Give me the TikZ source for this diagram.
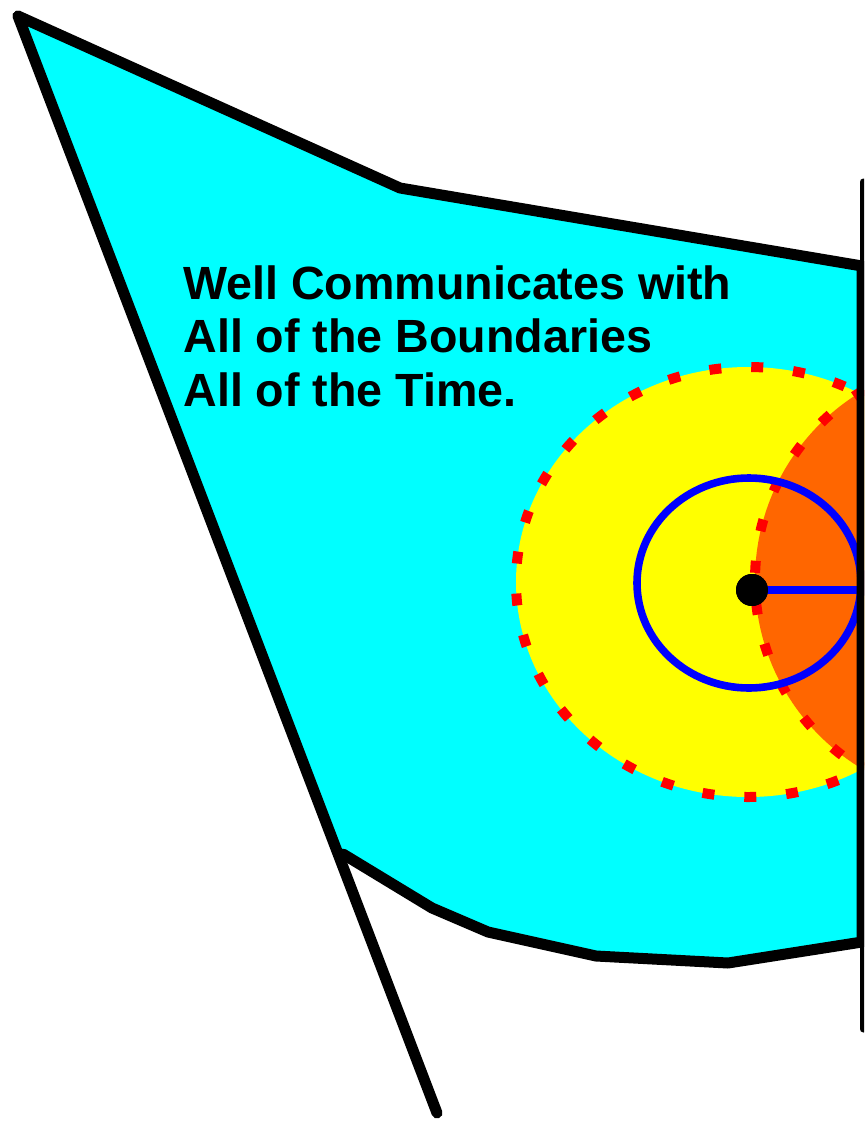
\documentclass[tikz,border=0pt]{standalone}
\usepackage{fontspec}
\setmainfont{Liberation Sans}
\usetikzlibrary{positioning}
\definecolor{wellcyan}{RGB}{0,255,255}
\definecolor{zoneyellow}{RGB}{255,255,0}
\definecolor{zoneorange}{RGB}{255,102,0}
\definecolor{frontred}{RGB}{255,0,0}
\definecolor{radblue}{RGB}{0,0,255}

\begin{document}
\begin{tikzpicture}[
    x=0.5pt, y=-0.5pt,
    boundary/.style={draw=black, line width=5.5pt, line join=round, line cap=round},
    front/.style={draw=frontred, line width=5pt, dash pattern=on 6pt off 15pt},
    radline/.style={draw=radblue, line width=3.8pt},
    note/.style={font=\bfseries\fontsize{23.3}{26.75}\selectfont, align=left, inner sep=0pt}
  ]
    \clip (0,0) rectangle (864,1124);

    % outline of the domain
    \coordinate (tl) at (18,16);
    \coordinate (kink) at (400,188);
    \coordinate (tr) at (862,266);
    \coordinate (br) at (862,942);
    \coordinate (b1) at (728,963);
    \coordinate (b2) at (596,956);
    \coordinate (b3) at (488,932);
    \coordinate (b4) at (432,908);
    \coordinate (bl) at (343,854);
    \coordinate (tail) at (437,1113);

    \fill[wellcyan] (tl) -- (kink) -- (tr) -- (br) -- (b1) -- (b2) -- (b3) -- (b4) -- (bl) -- cycle;

    % pressure zones
    \fill[zoneyellow] (748,582) ellipse [x radius=116pt, y radius=107.5pt];
    \fill[zoneorange] (975,580) circle [radius=110pt];
    \draw[front] (748,582) ellipse [x radius=116pt, y radius=107.5pt];
    \draw[front] (975,580) circle [radius=110pt];
    \draw[radline] (749,583) ellipse [x radius=56pt, y radius=52.5pt];

    \node[circle, fill=black, minimum size=16pt, inner sep=0pt] (well) at (752,590) {};
    \coordinate (rim) at (862,590);
    \draw[radline] (well.center) -- (rim);
    \node[circle, fill=black, minimum size=16pt, inner sep=0pt] at (well) {};

    \draw[boundary] (tl) -- (kink) -- (tr) -- (br) -- (b1) -- (b2) -- (b3) -- (b4) -- (bl);
    \draw[boundary] (tl) -- (tail);
    \draw[black, line width=3.5pt, line cap=round] (863,182) -- (863,1029);

    \node[note, anchor=north west] (msg) at (183,265) {Well Communicates with\\All of the Boundaries\\All of the Time.};
  \end{tikzpicture}
\end{document}
